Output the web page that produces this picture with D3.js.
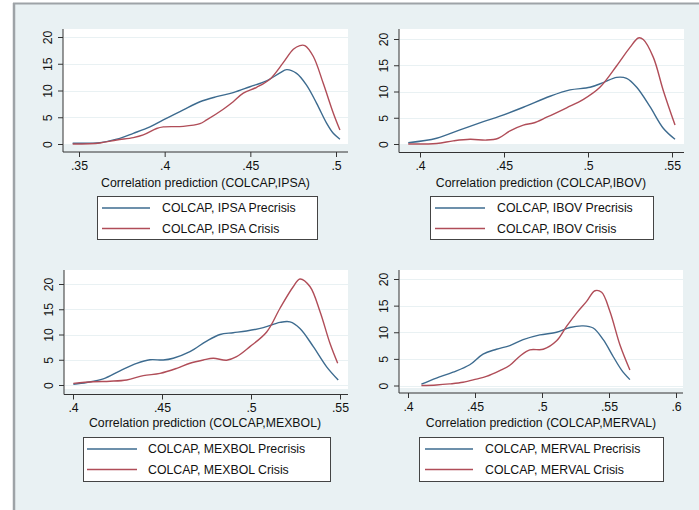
<!DOCTYPE html>
<html>
<head>
<meta charset="utf-8">
<script src="https://cdn.jsdelivr.net/npm/d3@7"></script>
<style>
  html, body { margin: 0; padding: 0; background: #ffffff; }
  svg { display: block; }
  text { font-family: "Liberation Sans", Arial, Helvetica, sans-serif; fill: #111; }
</style>
</head>
<body>
<svg id="chart" width="699" height="510"></svg>
<script>
// Kernel density estimates of predicted correlations, precrisis vs crisis
const ipsaPrecrisis = [[.3463,.15],[.3623,.25],[.372,.9],[.3817,2.0],[.3914,3.2],[.3992,4.5],[.4109,6.4],[.4206,7.9],[.4303,8.85],[.44,9.6],[.4498,10.7],[.4595,11.8],[.4673,13.3],[.4712,13.9],[.477,13.2],[.4828,11],[.4887,7.6],[.4945,3.9],[.4984,2.0],[.5023,0.9]];
const ipsaCrisis = [[.3463,0],[.3623,.2],[.372,.75],[.3817,1.2],[.3875,1.7],[.3953,2.9],[.3992,3.2],[.4109,3.3],[.4206,3.8],[.4245,4.5],[.4342,6.5],[.44,7.9],[.4459,9.5],[.4537,10.6],[.4614,12.1],[.4692,15.2],[.4751,17.7],[.4789,18.4],[.4818,18.4],[.4867,16.4],[.4925,11.4],[.4984,5.8],[.5023,2.6]];

const ibovPrecrisis = [[.393,.25],[.4099,1.1],[.4238,2.7],[.4377,4.25],[.4476,5.3],[.4615,7.0],[.4774,9.1],[.4893,10.3],[.5012,10.8],[.5091,11.7],[.5171,12.7],[.523,12.5],[.529,10.8],[.5369,7.1],[.5448,3.0],[.5518,.9]];
const ibovCrisis = [[.393,0],[.4099,.1],[.4198,.6],[.4298,.9],[.4397,.75],[.4466,1.1],[.4536,2.5],[.4615,3.6],[.4675,4.0],[.4754,5.1],[.4873,6.9],[.4973,8.5],[.5071,10.8],[.5171,14.9],[.525,18.4],[.53,20.2],[.5329,19.9],[.5389,16.5],[.5448,10.2],[.5518,3.6]];

const mexbolPrecrisis = [[.4002,.15],[.4077,.5],[.417,1.2],[.4264,2.8],[.4358,4.3],[.4433,5.0],[.4507,4.95],[.4563,5.3],[.4657,6.6],[.4751,8.7],[.4826,10.0],[.49,10.35],[.4975,10.7],[.5069,11.35],[.5163,12.4],[.5219,12.5],[.5275,11.2],[.535,7.6],[.5425,3.6],[.549,1.0]];
const mexbolCrisis = [[.4002,.33],[.4114,.65],[.4208,.75],[.4302,1.0],[.4395,1.85],[.4489,2.3],[.4583,3.3],[.4657,4.3],[.4732,4.95],[.4788,5.3],[.4863,4.9],[.4919,5.6],[.4994,7.6],[.5088,10.5],[.5163,15.2],[.5238,19.5],[.5275,21.0],[.5331,19.5],[.5388,14.5],[.5444,8.2],[.5487,4.3]];

const mervalPrecrisis = [[.41,.25],[.4212,1.4],[.4336,2.5],[.4461,3.9],[.456,5.9],[.466,6.8],[.476,7.5],[.4859,8.6],[.4984,9.5],[.5109,10.0],[.5208,10.9],[.5308,11.2],[.5382,10.8],[.5457,8.6],[.5532,5.4],[.5594,2.9],[.5656,1.1]];
const mervalCrisis = [[.41,0],[.4212,.1],[.4311,.3],[.4411,.6],[.451,1.2],[.4585,1.7],[.4685,2.8],[.476,3.8],[.4834,5.5],[.4909,6.7],[.5009,6.8],[.5109,8.4],[.5183,11.1],[.5258,13.6],[.5333,15.8],[.5395,17.8],[.5445,17.5],[.5507,13.9],[.5582,7.6],[.5656,2.9]];

// Axis ticks and labels
const indices = ["IPSA", "IBOV", "MEXBOL", "MERVAL"];
const xTicksIPSA = [.35, .4, .45, .5];
const xTicksIBOV = [.4, .45, .5, .55];
const xTicksMEXBOL = [.4, .45, .5, .55];
const xTicksMERVAL = [.4, .45, .5, .55, .6];
const yTicks = [0, 5, 10, 15, 20];
const seriesNames = ["Precrisis", "Crisis"];

const colors = { Precrisis: "#3d6b8f", Crisis: "#b04d58" };
const bg = "#e9f1f3";

// Panel layout (pixels)
const panels = [
  { name: indices[0], pre: ipsaPrecrisis, crisis: ipsaCrisis, xt: xTicksIPSA,
    left: 63, right: 348, top: 29, whiteBottom: 145, axisY: 152,
    xRange: [79, 336], y0: 144, y20: 37, titleY: 183, titleX: 205.5,
    leg: { x: 97, y: 196, w: 220, h: 43, lx0: 102, lx1: 150, tx: 162 } },
  { name: indices[1], pre: ibovPrecrisis, crisis: ibovCrisis, xt: xTicksIBOV,
    left: 399, right: 684, top: 29, whiteBottom: 145, axisY: 152.5,
    xRange: [420, 672], y0: 144, y20: 39, titleY: 183, titleX: 541,
    leg: { x: 430, y: 196, w: 223, h: 43, lx0: 435, lx1: 485, tx: 497 } },
  { name: indices[2], pre: mexbolPrecrisis, crisis: mexbolCrisis, xt: xTicksMEXBOL,
    left: 64, right: 348, top: 270, whiteBottom: 389, axisY: 394.5,
    xRange: [73, 340], y0: 385, y20: 284, titleY: 423, titleX: 205,
    leg: { x: 83, y: 437, w: 247, h: 44, lx0: 87, lx1: 137, tx: 148 } },
  { name: indices[3], pre: mervalPrecrisis, crisis: mervalCrisis, xt: xTicksMERVAL,
    left: 399, right: 683, top: 270, whiteBottom: 388, axisY: 393,
    xRange: [408, 676], y0: 385.5, y20: 279, titleY: 423, titleX: 541,
    leg: { x: 419, y: 437, w: 244, h: 44, lx0: 425, lx1: 473, tx: 485 } }
];

const svg = d3.select("#chart");

// Graph background and outer frame
svg.append("rect").attr("x", 14).attr("y", 4).attr("width", 685).attr("height", 506).attr("fill", bg);
svg.append("line").attr("x1", 14).attr("x2", 14).attr("y1", 3).attr("y2", 510)
  .attr("stroke", "#9ea3a7").attr("stroke-width", 2.5);
svg.append("line").attr("x1", 13).attr("x2", 699).attr("y1", 3.5).attr("y2", 3.5)
  .attr("stroke", "#9ea3a7").attr("stroke-width", 2);

const fmt = v => d3.format(".2~f")(v).replace(/^0\./, ".");
const fontSize = "12.3px";

panels.forEach(p => {
  const g = svg.append("g");
  const xTickMin = p.xt[0], xTickMax = p.xt[p.xt.length - 1];
  const x = d3.scaleLinear().domain([xTickMin, xTickMax]).range(p.xRange);
  const y = d3.scaleLinear().domain([0, 20]).range([p.y0, p.y20]);

  // plot region
  g.append("rect").attr("x", p.left).attr("y", p.top)
    .attr("width", p.right - p.left).attr("height", p.whiteBottom - p.top)
    .attr("fill", "#ffffff");

  // horizontal grid lines
  g.selectAll(".grid").data(yTicks).join("line")
    .attr("x1", p.left + 1).attr("x2", p.right)
    .attr("y1", d => Math.round(y(d)) + 0.5).attr("y2", d => Math.round(y(d)) + 0.5)
    .attr("stroke", bg).attr("stroke-width", 1.2);

  // density curves
  const line = d3.line().x(d => x(d[0])).y(d => y(d[1])).curve(d3.curveCatmullRom.alpha(0.5));
  [["Precrisis", p.pre], ["Crisis", p.crisis]].forEach(([key, data]) => {
    g.append("path").datum(data).attr("d", line)
      .attr("fill", "none").attr("stroke", colors[key]).attr("stroke-width", 1.4)
      .attr("stroke-linejoin", "round");
  });

  // y axis
  const yAxis = d3.axisLeft(y).tickValues(yTicks).tickSize(5).tickPadding(3).tickFormat(d3.format("d"));
  const ya = g.append("g").attr("transform", `translate(${p.left},0)`).call(yAxis);
  ya.select(".domain").remove();
  ya.append("line").attr("x1", 0).attr("x2", 0).attr("y1", p.top).attr("y2", p.axisY)
    .attr("stroke", "#333").attr("stroke-width", 1);
  ya.selectAll(".tick line").attr("stroke", "#333");
  ya.selectAll(".tick text")
    .attr("x", null).attr("dy", null)
    .attr("text-anchor", "middle")
    .attr("dominant-baseline", "central")
    .attr("transform", "translate(-15,0) rotate(-90)")
    .style("font-size", fontSize).attr("fill", "#111");

  // x axis
  const xAxis = d3.axisBottom(x).tickValues(p.xt).tickSize(5).tickPadding(4).tickFormat(fmt);
  const xa = g.append("g").attr("transform", `translate(0,${p.axisY})`).call(xAxis);
  xa.select(".domain").remove();
  xa.append("line").attr("x1", p.left).attr("x2", p.right).attr("y1", 0).attr("y2", 0)
    .attr("stroke", "#333").attr("stroke-width", 1);
  xa.selectAll(".tick line").attr("stroke", "#333");
  xa.selectAll(".tick text").style("font-size", fontSize).attr("fill", "#111");

  // axis title
  g.append("text").attr("x", p.titleX).attr("y", p.titleY)
    .attr("text-anchor", "middle").attr("dominant-baseline", "central")
    .style("font-size", fontSize)
    .text(`Correlation prediction (COLCAP,${p.name})`);

  // legend
  const L = p.leg;
  g.append("rect").attr("x", L.x + 0.5).attr("y", L.y + 0.5).attr("width", L.w).attr("height", L.h)
    .attr("fill", "#ffffff").attr("stroke", "#444").attr("stroke-width", 1);
  seriesNames.forEach((s, i) => {
    const ly = L.y + 12 + i * 20.5;
    g.append("line").attr("x1", L.lx0).attr("x2", L.lx1).attr("y1", ly).attr("y2", ly)
      .attr("stroke", colors[s]).attr("stroke-width", 1.4);
    g.append("text").attr("x", L.tx).attr("y", ly).attr("dominant-baseline", "central")
      .style("font-size", fontSize).text(`COLCAP, ${p.name} ${s}`);
  });
});
</script>
</body>
</html>
